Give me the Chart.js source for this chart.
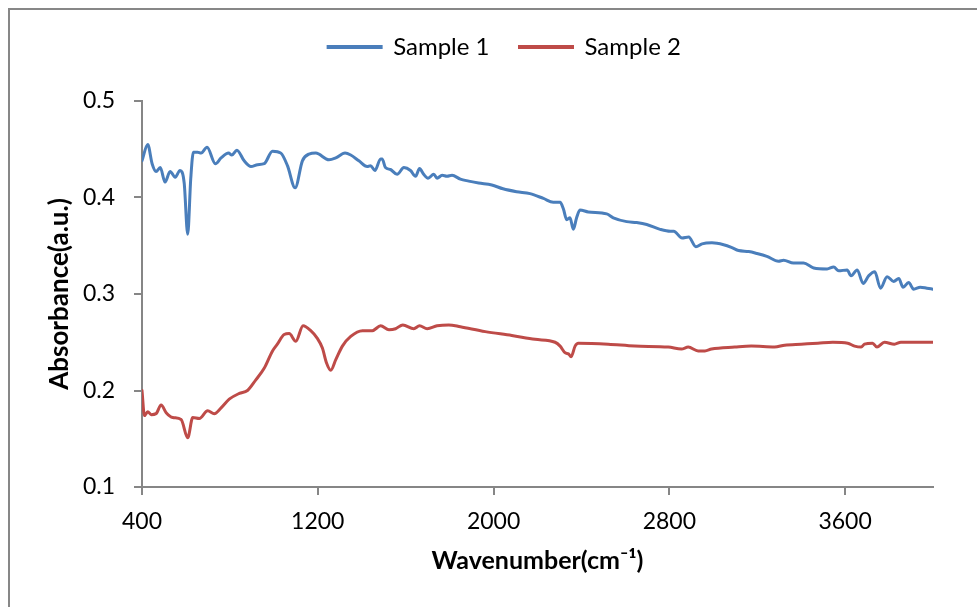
<!DOCTYPE html>
<html>
<head>
<meta charset="utf-8">
<title>Absorbance</title>
<script src="https://cdn.jsdelivr.net/npm/chart.js@4.4.1/dist/chart.umd.min.js"></script>
<style>
  body { margin: 0; background: #fff; overflow: hidden; }
  #frame { position: absolute; left: 8px; top: 8px; width: 1100px; height: 800px; border: 2px solid #878787; }
  #wrap { position: absolute; left: 0; top: 0; width: 977px; height: 607px; }
</style>
</head>
<body>
<div id="frame"></div>
<div id="wrap"><canvas id="chart1" width="977" height="607"></canvas></div>
<script>
// Eixo X: ticks a cada 800 cm-1 (o 4000 é o fim do eixo, sem rótulo)
const xTicks = [400, 1200, 2000, 2800, 3600];

// Sample 1 (azul)
const wavenumber1 = [400, 426, 446, 464, 483, 505, 528, 551, 573, 592, 608, 622, 634, 653, 669, 696, 734, 760, 794, 809, 832, 865, 896, 926, 956,
  994, 1032, 1062, 1097, 1130, 1160, 1191, 1251, 1282, 1324, 1350, 1387, 1425, 1440, 1460, 1486, 1493, 1508, 1531, 1561, 1592, 1622, 1645,
  1663, 1682, 1702, 1728, 1743, 1766, 1788, 1811, 1849, 1887, 1932, 1992, 2043, 2105, 2166, 2227, 2272, 2303, 2318, 2333, 2348, 2363, 2378,
  2393, 2431, 2515, 2545, 2606, 2651, 2697, 2758, 2804, 2820, 2858, 2888, 2921, 2949, 2994, 3047, 3085, 3115, 3161, 3199, 3244, 3297, 3320,
  3365, 3411, 3457, 3518, 3548, 3571, 3609, 3627, 3655, 3682, 3708, 3735, 3761, 3791, 3821, 3844, 3864, 3889, 3912, 3942, 3972, 4000];
const sample1 = [0.438, 0.455, 0.435, 0.427, 0.431, 0.416, 0.427, 0.421, 0.428, 0.415, 0.362, 0.420, 0.447, 0.447, 0.446, 0.452, 0.435, 0.441, 0.446, 0.444, 0.449, 0.438, 0.432, 0.434, 0.435,
  0.448, 0.446, 0.433, 0.410, 0.438, 0.445, 0.446, 0.439, 0.441, 0.446, 0.444, 0.438, 0.432, 0.433, 0.428, 0.440, 0.440, 0.431, 0.429, 0.424, 0.431, 0.428, 0.422,
  0.430, 0.424, 0.420, 0.424, 0.420, 0.423, 0.422, 0.423, 0.419, 0.417, 0.415, 0.413, 0.409, 0.406, 0.404, 0.399, 0.395, 0.395, 0.388, 0.377, 0.379, 0.367, 0.379,
  0.387, 0.385, 0.383, 0.379, 0.375, 0.374, 0.372, 0.367, 0.365, 0.365, 0.358, 0.359, 0.349, 0.352, 0.353, 0.351, 0.348, 0.345, 0.344, 0.342, 0.339, 0.334, 0.335,
  0.332, 0.332, 0.327, 0.326, 0.328, 0.324, 0.325, 0.319, 0.325, 0.311, 0.319, 0.323, 0.306, 0.318, 0.313, 0.316, 0.307, 0.312, 0.305, 0.307, 0.306, 0.305];

// Sample 2 (vermelho)
const wavenumber2 = [400, 411, 426, 442, 464, 487, 510, 540, 578, 608, 631, 661, 699, 729, 760, 797, 843, 880, 918, 956, 994, 1016, 1047, 1070, 1100,
  1133, 1168, 1198, 1221, 1239, 1259, 1282, 1312, 1350, 1403, 1448, 1486, 1524, 1554, 1587, 1637, 1663, 1698, 1743, 1796, 1849, 1962, 2083,
  2189, 2280, 2303, 2326, 2341, 2353, 2371, 2386, 2522, 2643, 2795, 2855, 2886, 2931, 2962, 2992, 3098, 3173, 3279, 3325, 3400, 3476, 3544,
  3612, 3643, 3673, 3688, 3725, 3745, 3779, 3824, 3854, 3930, 4000];
const sample2 = [0.200, 0.174, 0.178, 0.175, 0.176, 0.185, 0.177, 0.172, 0.170, 0.151, 0.172, 0.171, 0.179, 0.176, 0.182, 0.191, 0.197, 0.200, 0.211, 0.223, 0.241, 0.248, 0.258, 0.259, 0.251,
  0.267, 0.262, 0.254, 0.244, 0.229, 0.221, 0.232, 0.246, 0.256, 0.262, 0.262, 0.267, 0.263, 0.264, 0.268, 0.264, 0.267, 0.264, 0.267, 0.268, 0.266, 0.261, 0.257,
  0.253, 0.250, 0.246, 0.239, 0.238, 0.235, 0.246, 0.249, 0.248, 0.246, 0.245, 0.243, 0.245, 0.241, 0.241, 0.243, 0.245, 0.246, 0.245, 0.247, 0.248, 0.249, 0.250,
  0.249, 0.246, 0.245, 0.248, 0.249, 0.245, 0.250, 0.248, 0.250, 0.250, 0.250];

function toPoints(xs, ys) {
    return xs.map(function (x, i) { return { x: x, y: ys[i] }; });
}

const axisGray = '#868686';
const fontFamily = 'Lato, "Noto Sans", sans-serif';

// Ajusta a posição da legenda (acima do gráfico, um pouco à direita)
const legendShift = {
    id: 'legendShift',
    afterLayout: function (chart) {
        const lg = chart.legend;
        lg.top -= 32; lg.bottom -= 32;
        lg.left += 38; lg.right += 38;
    }
};

const ctx = document.getElementById('chart1').getContext('2d');
const chart = new Chart(ctx, {
    type: 'line',
    data: {
        datasets: [
            {
                label: 'Sample 1',
                data: toPoints(wavenumber1, sample1),
                borderColor: '#4A7EBB',
                backgroundColor: '#4A7EBB',
                borderWidth: 3,
                borderCapStyle: 'round',
                pointRadius: 0,
                cubicInterpolationMode: 'monotone',
                fill: false
            },
            {
                label: 'Sample 2',
                data: toPoints(wavenumber2, sample2),
                borderColor: '#BE4B48',
                backgroundColor: '#BE4B48',
                borderWidth: 3,
                borderCapStyle: 'round',
                pointRadius: 0,
                cubicInterpolationMode: 'monotone',
                fill: false
            }
        ]
    },
    options: {
        responsive: false,
        animation: false,
        layout: { padding: { top: 37, right: 44, bottom: 0, left: 0 } },
        plugins: {
            legend: {
                position: 'top',
                labels: {
                    boxWidth: 53,
                    boxHeight: 1,
                    padding: 30,
                    color: '#000',
                    font: { family: fontFamily, size: 24 }
                }
            },
            tooltip: { enabled: false }
        },
        scales: {
            x: {
                type: 'linear',
                min: 400,
                max: 4000,
                afterBuildTicks: function (scale) {
                    scale.ticks = xTicks.map(function (v) { return { value: v }; });
                },
                afterFit: function (scale) { scale.height = 120; },
                border: { color: axisGray, width: 2 },
                grid: { drawOnChartArea: false, drawTicks: true, tickLength: 8, color: axisGray, lineWidth: 2 },
                ticks: {
                    color: '#000',
                    padding: 13,
                    maxRotation: 0,
                    font: { family: fontFamily, size: 23 },
                    callback: function (v) { return String(v); }
                },
                title: {
                    display: true,
                    text: 'Wavenumber(cm⁻¹)',
                    color: '#000',
                    padding: { top: 0, bottom: 31 },
                    font: { family: fontFamily, size: 25, weight: 'bold' }
                }
            },
            y: {
                min: 0.1,
                max: 0.5,
                afterFit: function (scale) { scale.width = 142; },
                border: { color: axisGray, width: 2 },
                grid: { drawOnChartArea: false, drawTicks: true, tickLength: 8, color: axisGray, lineWidth: 2 },
                ticks: {
                    stepSize: 0.1,
                    color: '#000',
                    padding: 19,
                    font: { family: fontFamily, size: 23 },
                    callback: function (v) { return v.toFixed(1); }
                },
                title: {
                    display: true,
                    text: 'Absorbance(a.u.)',
                    color: '#000',
                    padding: { top: 44, bottom: 0 },
                    font: { family: fontFamily, size: 26, weight: 'bold' }
                }
            }
        }
    },
    plugins: [legendShift]
});
</script>
</body>
</html>
